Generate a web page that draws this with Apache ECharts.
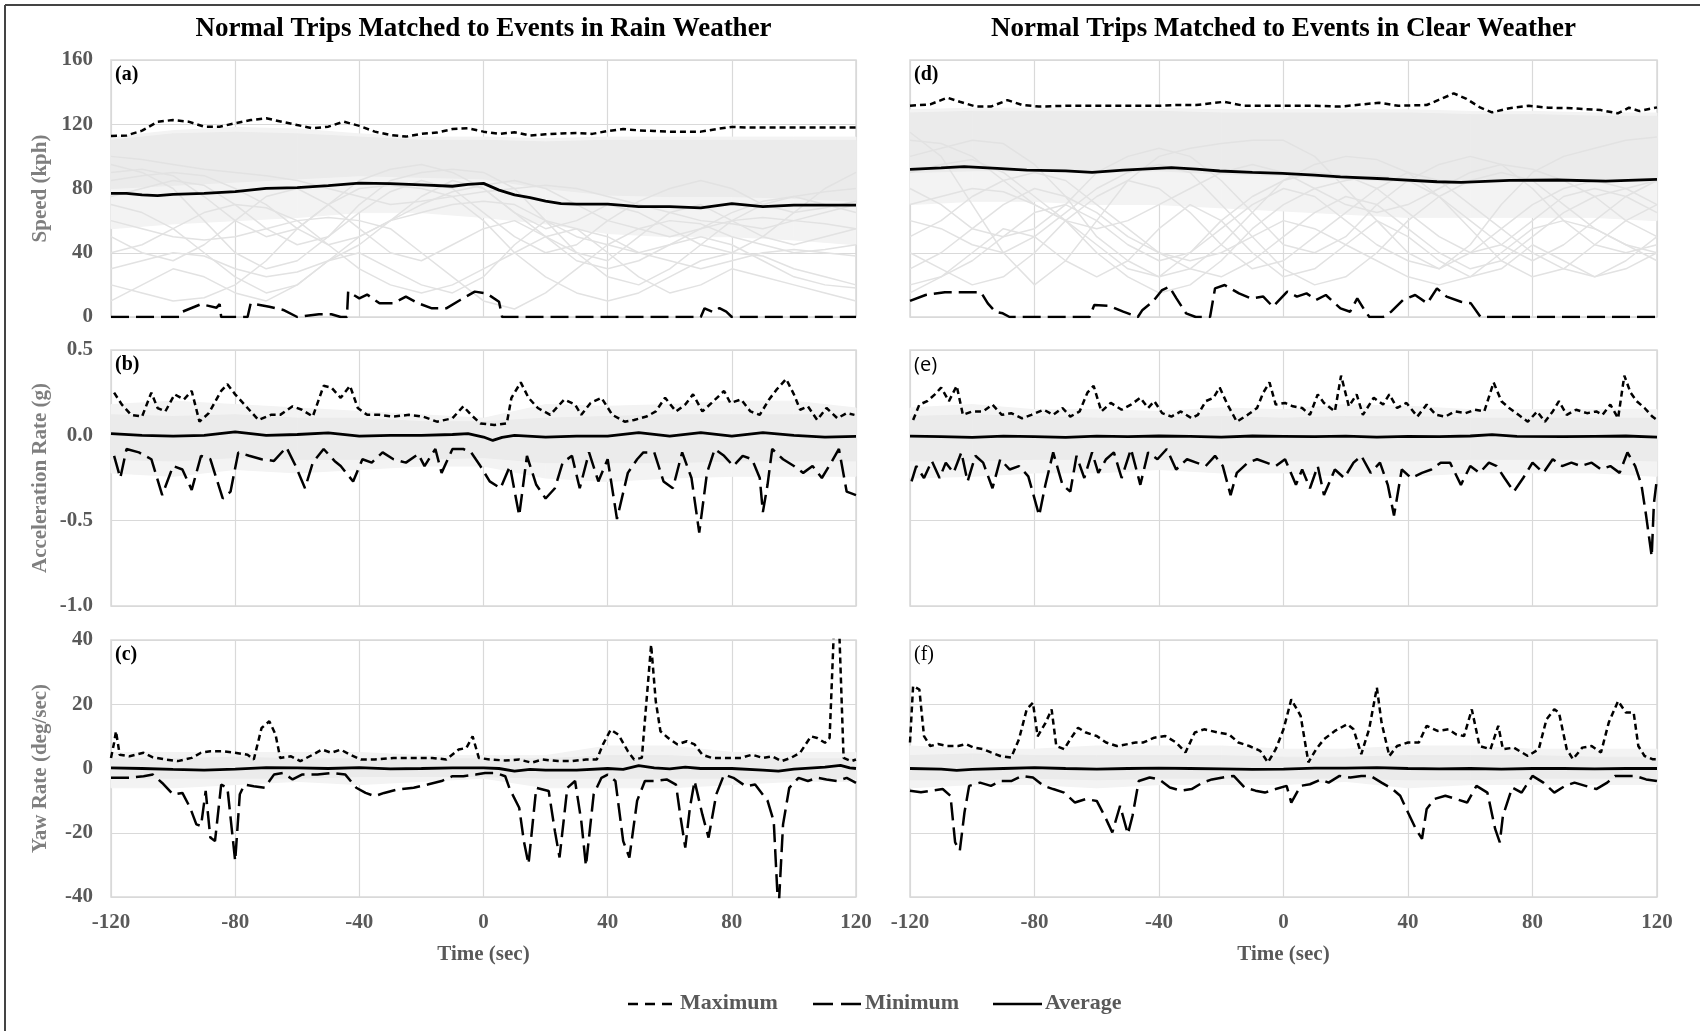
<!DOCTYPE html>
<html>
<head>
<meta charset="utf-8">
<title>Normal trips matched to events</title>
<script src="https://cdn.jsdelivr.net/npm/echarts@6/dist/echarts.min.js"></script>
<style>
  html, body { margin: 0; padding: 0; background: #fff; }
  #chart { width: 1700px; height: 1031px; }
</style>
</head>
<body>
<div id="chart"></div>
<script>
// ---- data (time in sec) ----
const bandTimes = [-120, -100, -80, -60, -40, -20, 0, 20, 40, 60, 80, 100, 120];
const traceTimes = [-120, -110, -100, -90, -80, -70, -60, -50, -40, -30, -20, -10, 0,
  10, 20, 30, 40, 50, 60, 70, 80, 90, 100, 110, 120];

// (a) speed, rain
const rainSpeedMax = [[-120,112.7],[-115,113],[-110,116],[-105,121.6],[-100,122.6],[-95,121.6],[-90,118.5],[-85,118.5],[-80,120.6],[-75,122.6],[-70,123.7],[-65,121.6],[-60,119.5],[-55,117.5],[-50,118.5],[-45,121.6],[-40,119],[-35,115.4],[-30,113.3],[-25,112.3],[-20,114],[-15,114.8],[-10,117],[-5,117.5],[0,115.4],[5,114],[10,115],[15,113],[20,113.7],[25,114.3],[30,114.5],[35,114],[40,115.8],[45,117],[50,116.2],[55,115.8],[60,115.4],[65,115.4],[70,115.4],[75,117],[80,118.3],[85,118],[90,117.9],[100,117.9],[110,117.9],[120,117.9]];
const rainSpeedMin = [[-120,0],[-98,0],[-97,3.3],[-91,8],[-86,5.8],[-85,8],[-84.5,0],[-76,0],[-75,8.5],[-69,6.4],[-64.5,4.4],[-60,0],[-53,1.7],[-49,1.7],[-46,0],[-44,0],[-43.6,15.8],[-40,11.6],[-37.5,14],[-33.5,8.5],[-29,8.5],[-25,12.7],[-21,8.5],[-16.6,5.4],[-12,5.4],[-7.5,10.6],[-2.8,15.8],[1,14.7],[5,9.5],[6,0],[70,0],[71.2,5.4],[74,3],[76,5.5],[78.2,3.3],[80,0],[120,0]];
const rainSpeedAvg = [[-120,77],[-115,77],[-110,76],[-105,75.6],[-100,76.4],[-90,77],[-80,78],[-70,80.1],[-60,80.5],[-50,81.8],[-40,83.4],[-30,83],[-20,82.2],[-10,81.4],[-5,82.6],[0,83.2],[5,79],[10,76],[15,74.3],[20,72.2],[25,70.6],[30,70.3],[40,70.3],[50,68.7],[60,68.7],[70,68],[80,70.6],[90,68.7],[100,69.7],[110,69.7],[120,69.7]];
const rainSpeedBandLow = [80, 82, 84, 86, 88, 87, 86, 80, 76, 75, 75, 74, 72];
const rainSpeedBandUp = [110, 114, 115, 114, 112, 110, 110, 109, 110, 110, 110, 110, 110];
const rainSpeedOuterLow = [55, 58, 60, 62, 65, 65, 62, 58, 52, 50, 50, 48, 45];
const rainSpeedOuterUp = [112, 116, 118, 117, 114, 112, 112, 111, 112, 112, 112, 112, 112];
const rainSpeedTraces = [
  [70,65,55,40,25,15,20,35,50,60,65,70,72,70,60,50,45,40,45,55,60,62,60,58,55],
  [95,90,80,60,40,30,35,50,70,85,90,92,90,80,60,40,25,20,30,45,60,70,75,78,80],
  [40,45,55,65,70,68,60,45,30,20,15,20,30,40,50,55,50,40,35,30,35,40,42,40,38],
  [20,15,10,12,20,35,55,70,80,82,80,75,60,40,25,15,10,15,25,35,40,38,30,25,20],
  [85,88,90,88,80,70,55,45,50,60,70,78,82,85,80,70,60,55,50,55,65,72,75,70,65],
  [60,55,50,48,50,55,60,62,60,55,40,25,10,5,15,30,45,55,60,58,50,45,40,42,45],
  [30,35,40,38,30,25,28,35,45,60,75,85,80,65,50,35,30,35,45,50,45,35,25,20,18],
  [100,98,95,92,90,88,85,80,75,70,72,75,78,80,82,80,75,70,65,60,58,55,60,65,70],
  [75,80,85,82,70,55,45,50,65,78,85,80,65,50,40,45,60,72,80,85,80,70,65,68,72],
  [10,20,30,25,15,10,20,35,40,30,20,15,25,45,60,55,40,25,15,20,30,25,20,15,10],
  [50,40,35,45,60,75,80,70,55,40,35,45,55,60,50,40,35,50,65,70,60,50,45,50,55],
  [90,92,88,75,60,50,55,70,85,92,95,90,80,65,55,60,70,65,55,45,40,50,65,80,90]
];

// (b) acceleration, rain
const rainAccMax = [[-119,0.25],[-116.5,0.18],[-113.5,0.12],[-110,0.11],[-107,0.25],[-105,0.16],[-102.5,0.14],[-99.5,0.24],[-96.5,0.21],[-94,0.26],[-91.5,0.08],[-88.5,0.13],[-84.5,0.26],[-82.5,0.3],[-80,0.24],[-76,0.16],[-72.5,0.09],[-68.5,0.12],[-65.5,0.12],[-61.5,0.17],[-58.5,0.15],[-55,0.11],[-51.5,0.29],[-49,0.28],[-46,0.22],[-43,0.29],[-40.5,0.16],[-37.5,0.12],[-33.5,0.12],[-29,0.11],[-24,0.12],[-19.5,0.11],[-15,0.08],[-10,0.1],[-6.5,0.17],[-4,0.12],[-1,0.07],[3.5,0.06],[7.5,0.07],[9,0.22],[12,0.31],[14.5,0.22],[17.5,0.16],[21.5,0.12],[26,0.21],[29.5,0.18],[31.5,0.12],[34.5,0.19],[38,0.22],[41.5,0.12],[45.5,0.08],[48.5,0.09],[52.5,0.11],[55.5,0.14],[58.5,0.22],[62,0.14],[65,0.18],[67.5,0.24],[70.5,0.14],[73.5,0.19],[77.5,0.26],[79.5,0.19],[83,0.21],[86,0.14],[89,0.12],[92,0.21],[94.5,0.27],[97.5,0.33],[100,0.24],[102,0.15],[104.5,0.17],[107.5,0.09],[110.5,0.16],[114,0.1],[117,0.13],[119.5,0.12]];
const rainAccMin = [[-119,-0.12],[-117,-0.25],[-115,-0.08],[-111,-0.1],[-107,-0.14],[-103.5,-0.35],[-100,-0.18],[-97,-0.2],[-94,-0.32],[-91,-0.12],[-88,-0.14],[-84,-0.37],[-81.5,-0.33],[-79,-0.1],[-75.5,-0.12],[-71.5,-0.14],[-67.5,-0.15],[-63.5,-0.07],[-60.5,-0.18],[-57.5,-0.31],[-55,-0.16],[-51.5,-0.08],[-48,-0.15],[-46,-0.18],[-42,-0.27],[-39,-0.14],[-36,-0.16],[-32.5,-0.1],[-29,-0.14],[-25,-0.16],[-21,-0.11],[-19,-0.18],[-15.5,-0.08],[-13.5,-0.22],[-10,-0.08],[-6.5,-0.08],[-4,-0.1],[-1,-0.18],[2,-0.27],[5.5,-0.31],[8.5,-0.18],[11.5,-0.47],[14,-0.12],[17,-0.29],[20,-0.37],[23,-0.31],[25.5,-0.16],[28.5,-0.12],[31,-0.31],[34,-0.1],[37,-0.27],[40,-0.14],[43,-0.49],[46.5,-0.22],[49.5,-0.14],[51.5,-0.1],[55,-0.1],[58,-0.27],[61,-0.31],[64,-0.1],[67,-0.25],[69.5,-0.57],[72,-0.22],[74.5,-0.08],[77.5,-0.12],[80.5,-0.18],[83.5,-0.12],[86.5,-0.14],[89,-0.25],[90,-0.45],[91.5,-0.29],[93,-0.08],[96.5,-0.14],[100,-0.18],[103,-0.22],[106,-0.18],[109,-0.25],[112,-0.16],[114.5,-0.08],[117,-0.33],[120,-0.35]];
const rainAccAvg = [[-120,0.01],[-110,0],[-100,-0.005],[-90,0],[-80,0.02],[-70,0],[-60,0.005],[-50,0.015],[-40,-0.005],[-30,0],[-20,0],[-10,0.005],[-5,0.01],[0,-0.01],[3,-0.03],[6,-0.012],[10,0],[20,-0.01],[30,-0.005],[40,-0.005],[50,0.016],[60,-0.005],[70,0.016],[80,-0.005],[90,0.016],[100,0],[110,-0.01],[120,-0.006]];
const rainAccBandLow = [-0.14, -0.15, -0.13, -0.14, -0.14, -0.14, -0.13, -0.16, -0.16, -0.16, -0.15, -0.15, -0.15];
const rainAccBandUp = [0.12, 0.11, 0.12, 0.1, 0.1, 0.08, 0.08, 0.1, 0.11, 0.12, 0.12, 0.12, 0.12];
const rainAccOuterLow = [-0.22, -0.24, -0.2, -0.22, -0.2, -0.18, -0.18, -0.25, -0.27, -0.25, -0.24, -0.24, -0.24];
const rainAccOuterUp = [0.18, 0.2, 0.18, 0.16, 0.14, 0.12, 0.1, 0.18, 0.17, 0.18, 0.2, 0.2, 0.16];

// (c) yaw rate, rain
const rainYawMax = [[-120,3.3],[-119,8],[-118.4,11.6],[-117.2,4.3],[-114,3.8],[-109.5,4.9],[-106.5,3.5],[-102.5,2.8],[-98.5,2.3],[-94,3.3],[-91,4.9],[-88,5.4],[-84,5.4],[-80,4.9],[-76,4.3],[-74,2.8],[-71.5,12.6],[-69,14.7],[-67,10.6],[-65.5,3.3],[-62,3.8],[-59,2.3],[-55,4.3],[-52,5.9],[-49,4.9],[-46,5.9],[-43,4.3],[-39.5,2.8],[-35,2.8],[-29,3.3],[-22.5,3.3],[-16.5,3.3],[-12,2.8],[-8,5.9],[-5.5,6.4],[-3.5,10],[-1.5,3.3],[2,2.8],[7,2.5],[11.5,2.8],[15.5,1.8],[19,2.8],[24,2.3],[28.5,2.3],[33,2.8],[36.5,2.8],[38.5,7.5],[41,12.1],[43.5,10.5],[46.5,5.4],[48.5,2.8],[51,3.3],[52.5,20.9],[54,38.5],[55.5,20.9],[57,11.6],[59.5,9.5],[62.5,7.5],[65.5,8.5],[68,7.5],[70.5,4.3],[73.5,3.3],[78,3.3],[83,3.3],[86.5,4.3],[90,3.3],[93,3.8],[96,2.3],[99,3.3],[102,4.9],[105.5,10],[107.5,9.5],[110,8],[111.5,9.5],[113,46],[114.5,46],[116,3.3],[118.5,2.3],[120,2.8]];
const rainYawMin = [[-120,-2.9],[-114,-2.9],[-109.5,-2.4],[-106.5,-1.9],[-103.5,-4.5],[-100,-8.1],[-97,-7.6],[-94.5,-12.2],[-92.5,-17.4],[-91,-17.9],[-89.5,-7],[-88,-21.5],[-86.5,-22.6],[-84.5,-5],[-82.5,-6],[-80,-28.8],[-78.5,-8],[-77,-5],[-74,-5.5],[-70.5,-6],[-67.5,-1.9],[-64.5,-1.4],[-61.5,-3.4],[-58.5,-1.9],[-53.5,-1.9],[-49,-1.4],[-44.5,-1.9],[-41,-6],[-38,-7.6],[-35,-8.6],[-32,-7.6],[-27.5,-6.5],[-22.5,-6],[-18,-5],[-13.5,-3.9],[-10,-2.4],[-6.5,-2.4],[-2.5,-1.9],[0.5,-1.4],[4,-1.4],[7,-2.4],[8.5,-6.5],[11.5,-12.2],[13,-22.6],[14.5,-29.8],[17,-6],[21,-7],[23,-19.5],[24.5,-27.7],[27,-6],[29.5,-3.9],[31.5,-16.4],[33,-30.3],[35.5,-8],[38,-2.9],[40,-1.9],[42.5,-3.9],[45,-22.6],[47,-27.7],[49.5,-10],[52,-3.9],[55,-3.9],[59,-3.4],[62,-5],[63.5,-15.3],[65,-24.6],[66.5,-12.2],[68,-3.9],[70.5,-14.3],[72.5,-21.5],[75,-8],[77.5,-1.9],[80.5,-2.9],[84.5,-5.5],[87.5,-5],[91.5,-10],[93.5,-16.4],[95,-45],[96.5,-17.4],[98.5,-6],[101.5,-2.9],[104.5,-3.9],[107.5,-2.9],[110.5,-3.4],[114,-3.9],[117,-2.9],[120,-4.5]];
const rainYawAvg = [[-120,0.2],[-110,0],[-100,-0.3],[-90,-0.5],[-80,-0.2],[-70,0.3],[-60,0.2],[-50,0],[-40,0.3],[-30,-0.1],[-20,0],[-10,0.2],[0,0.2],[5,0],[10,-0.8],[15,-0.3],[20,-0.5],[30,-0.5],[40,0],[45,-0.3],[50,0.9],[55,0.2],[60,-0.1],[65,0.4],[70,0],[80,0],[90,-0.5],[95,-0.8],[100,-0.2],[110,0.4],[115,1],[118,0.2],[120,0]];
const rainYawBandLow = [-3, -3, -3, -3, -2.5, -2.5, -2.5, -3, -3, -3, -3, -3, -3];
const rainYawBandUp = [3, 3, 3.5, 3, 3, 3, 3, 3, 4, 4, 3, 3, 3];
const rainYawOuterLow = [-6, -6, -5, -4, -5, -4, -3, -6, -6, -6, -5, -4, -4];
const rainYawOuterUp = [5, 5, 5, 5, 5, 4, 4, 4, 7, 7, 5, 5, 5];

// (d) speed, clear
const clearSpeedMax = [[-120,131.5],[-113.5,132.4],[-108,136.5],[-104,134],[-98.8,131],[-94,131],[-88.7,135],[-84,132],[-78.6,131],[-70,131.5],[-60,131.5],[-50,131.5],[-40,131.5],[-34.4,132],[-28,132],[-19,134],[-12.7,131.5],[0,131.5],[10,131.5],[18.3,131],[30.7,133.4],[36.9,131.5],[46,132],[50.9,136],[54.7,139.2],[58.6,136],[63.3,130.3],[67,127.4],[72.6,130],[78.8,131.5],[85,130.3],[92.7,130],[102,128.8],[107.4,126.8],[111,130.3],[114.4,128.2],[120,130.5]];
const clearSpeedMin = [[-120,10],[-115,13.7],[-108.8,15.4],[-101,15.4],[-97.2,15.4],[-95,8.5],[-92.6,3.3],[-90.2,2.3],[-88,0],[-62.3,0],[-60.8,7.5],[-56,7],[-51.5,3.3],[-46.8,0],[-45.3,4.4],[-42,9.5],[-39,16.8],[-36.7,18.9],[-34.4,11.6],[-31.3,2.3],[-28.2,0],[-23.6,0],[-22,17.8],[-18.9,19.9],[-14.3,14.7],[-10.4,11.6],[-6.5,12.7],[-3.4,6.4],[1.2,15.8],[4.3,12.7],[7.4,14.7],[10.5,10.6],[13.6,13.7],[18.3,5.4],[21.4,3.3],[23.7,11.6],[26,4.4],[27.6,0],[32,0],[34.6,3.3],[38.4,10.6],[42.3,13.7],[46.2,8.5],[49.3,17.8],[52.4,12.7],[57,9.5],[60.2,8.5],[63.3,0],[120,0]];
const clearSpeedAvg = [[-120,91.9],[-110,92.8],[-102.6,93.6],[-92,92.5],[-82.5,91.5],[-70,91],[-61.5,90],[-51.5,91.5],[-36,93],[-28,92],[-20.5,90.9],[-10,90],[-0.3,89.4],[10,88.3],[18.3,87.3],[33.8,85.9],[49.3,84.2],[57,83.8],[72.6,85],[88,85.3],[103.6,84.6],[120,85.7]];
const clearSpeedBandLow = [90, 91, 91, 90, 91, 89, 88, 86, 84, 84, 85, 85, 84];
const clearSpeedBandUp = [127, 128, 128, 128, 128, 127, 127, 127, 127, 126, 126, 125, 125];
const clearSpeedOuterLow = [70, 72, 72, 70, 70, 68, 66, 64, 62, 62, 62, 62, 60];
const clearSpeedOuterUp = [129, 130, 130, 130, 130, 129, 129, 129, 129, 128, 128, 127, 127];
const clearSpeedTraces = [
  [115,100,70,40,20,35,60,85,100,105,108,110,110,100,80,60,40,30,45,70,90,100,105,110,112],
  [60,55,45,40,50,65,80,90,95,90,70,50,30,20,25,40,60,75,85,90,85,70,55,45,40],
  [100,105,110,108,95,75,50,35,25,30,45,65,85,95,100,98,90,75,55,35,25,30,45,60,70],
  [40,30,20,25,40,60,75,85,80,65,45,30,35,50,65,80,90,85,70,55,40,30,25,35,50],
  [80,70,55,50,55,70,90,100,105,100,85,65,45,40,50,70,85,95,100,95,80,60,45,40,45],
  [20,25,35,50,65,70,60,45,35,40,55,70,80,75,60,45,35,30,40,55,70,80,85,80,70],
  [110,108,100,85,70,60,55,60,70,80,90,95,90,80,70,65,70,80,90,95,92,85,75,60,50],
  [50,60,75,85,90,85,70,55,40,30,25,35,50,65,75,70,55,40,30,35,50,65,75,80,85],
  [90,95,98,90,75,60,40,25,15,20,35,55,70,80,85,88,85,75,60,45,35,45,60,75,85],
  [30,40,55,70,80,75,65,50,40,35,40,50,60,55,45,35,25,20,25,40,55,60,55,45,35],
  [70,75,80,78,70,60,45,30,25,40,60,75,85,90,88,80,65,50,40,45,60,75,80,75,65],
  [15,25,40,55,50,35,25,35,55,70,60,40,25,30,45,60,50,35,25,30,45,35,25,30,40]
];

// (e) acceleration, clear
const clearAccMax = [[-119,0.09],[-117,0.18],[-114.5,0.2],[-112,0.24],[-110,0.28],[-107.5,0.2],[-105,0.29],[-103,0.12],[-100,0.14],[-96.5,0.14],[-93.5,0.18],[-90.5,0.12],[-87.5,0.13],[-84,0.1],[-81,0.12],[-77,0.15],[-74,0.12],[-71,0.16],[-68.5,0.11],[-65.5,0.14],[-63,0.25],[-61,0.29],[-58.5,0.14],[-55.5,0.19],[-52,0.15],[-49,0.18],[-46,0.22],[-43.5,0.16],[-41.5,0.2],[-39,0.13],[-36,0.11],[-33,0.14],[-29.5,0.1],[-27.5,0.12],[-25,0.2],[-22.5,0.22],[-20.5,0.28],[-18,0.18],[-15,0.08],[-11.5,0.12],[-8.5,0.16],[-6.5,0.25],[-4.5,0.31],[-2.5,0.18],[0.5,0.19],[3,0.17],[6,0.16],[8.5,0.12],[11,0.24],[13,0.19],[16.5,0.14],[18.5,0.35],[21,0.17],[23.5,0.24],[25.5,0.12],[29,0.22],[32,0.18],[34,0.24],[36.5,0.16],[39.5,0.19],[43,0.11],[46,0.18],[49,0.12],[52,0.11],[55,0.14],[58.5,0.13],[61.5,0.15],[64.5,0.14],[67.5,0.31],[70,0.2],[72.5,0.16],[75.5,0.12],[78.5,0.08],[81.5,0.14],[84,0.08],[86.5,0.14],[88.5,0.2],[91,0.12],[94,0.15],[97.5,0.13],[100.5,0.14],[102.5,0.12],[105,0.18],[107.5,0.1],[109.5,0.35],[111.5,0.25],[113.5,0.2],[116,0.16],[118.5,0.11],[120,0.09]];
const clearAccMin = [[-119.5,-0.27],[-118,-0.18],[-115.5,-0.25],[-113,-0.15],[-110.5,-0.25],[-108.5,-0.16],[-106,-0.22],[-103.5,-0.1],[-101.5,-0.27],[-99,-0.12],[-96.5,-0.16],[-93.5,-0.31],[-91,-0.14],[-88,-0.2],[-85,-0.18],[-82,-0.24],[-78.5,-0.47],[-76.5,-0.29],[-74,-0.1],[-71,-0.29],[-68.5,-0.33],[-66.5,-0.12],[-64,-0.25],[-61.5,-0.1],[-59.5,-0.22],[-57,-0.14],[-54.5,-0.1],[-52,-0.25],[-49,-0.08],[-46,-0.29],[-43.5,-0.1],[-40.5,-0.14],[-37.5,-0.08],[-34.5,-0.2],[-31,-0.14],[-28,-0.16],[-25,-0.18],[-22,-0.12],[-19.5,-0.18],[-17,-0.35],[-15,-0.22],[-11.5,-0.16],[-8.5,-0.14],[-5.5,-0.16],[-2.5,-0.18],[0.5,-0.14],[4,-0.29],[6,-0.2],[8.5,-0.31],[11,-0.18],[13,-0.35],[16.5,-0.2],[19.5,-0.25],[22.5,-0.16],[25,-0.12],[28,-0.22],[31,-0.16],[33.5,-0.29],[35.5,-0.47],[38,-0.2],[41,-0.25],[44.5,-0.22],[47.5,-0.2],[50.5,-0.16],[53.5,-0.16],[57,-0.29],[60,-0.18],[63,-0.22],[66,-0.16],[68.5,-0.18],[71,-0.25],[74,-0.33],[77,-0.25],[80,-0.16],[83.5,-0.22],[86.5,-0.14],[89.5,-0.18],[92.5,-0.16],[95.5,-0.18],[99,-0.16],[102,-0.2],[105,-0.18],[108,-0.22],[110.5,-0.1],[113,-0.18],[115,-0.29],[116.5,-0.47],[118.3,-0.71],[119,-0.4],[120,-0.25]];
const clearAccAvg = [[-120,-0.005],[-110,-0.008],[-100,-0.012],[-90,-0.005],[-80,-0.008],[-70,-0.012],[-60,-0.005],[-50,-0.008],[-40,-0.004],[-30,-0.006],[-20,-0.01],[-10,-0.004],[0,-0.006],[10,-0.008],[20,-0.005],[30,-0.01],[40,-0.006],[50,-0.008],[60,-0.004],[67,0.004],[75,-0.006],[90,-0.008],[100,-0.006],[110,-0.004],[120,-0.01]];
const clearAccBandLow = [-0.15, -0.15, -0.14, -0.14, -0.14, -0.15, -0.15, -0.15, -0.15, -0.14, -0.14, -0.14, -0.15];
const clearAccBandUp = [0.11, 0.12, 0.11, 0.1, 0.1, 0.11, 0.1, 0.11, 0.11, 0.1, 0.1, 0.1, 0.1];
const clearAccOuterLow = [-0.25, -0.24, -0.22, -0.22, -0.2, -0.22, -0.22, -0.24, -0.24, -0.22, -0.22, -0.22, -0.24];
const clearAccOuterUp = [0.16, 0.18, 0.15, 0.15, 0.14, 0.16, 0.15, 0.18, 0.17, 0.15, 0.15, 0.15, 0.15];

// (f) yaw rate, clear
const clearYawMax = [[-120,8.1],[-119,25.7],[-117,24.6],[-115.5,10.1],[-113.5,7],[-111,7.6],[-108,7],[-104.5,7],[-102,7.6],[-99.5,6.5],[-96.5,6],[-94,5],[-91,3.9],[-87.5,3.4],[-85,9.1],[-82.5,18.4],[-80.5,20.5],[-79,10],[-76.5,14.1],[-74.5,18.4],[-73,7],[-70.5,6],[-68.5,9.1],[-66,12.7],[-63.5,11.2],[-60,10.1],[-57,8.1],[-53.5,7],[-50,7.6],[-47.5,8.1],[-45,8.1],[-41.5,9.6],[-38,10.1],[-34.5,8.1],[-31.5,5],[-28.5,11.2],[-25.5,12.2],[-21,11.2],[-17.5,10.6],[-14.5,8.1],[-11,7],[-7.5,5.5],[-5,1.9],[-2.5,6],[0,12.2],[2.5,21.5],[5.5,16.4],[8,1.9],[10.5,6],[13,9.1],[16.5,11.7],[20.5,13.8],[22.5,12.2],[25,4.5],[27.5,12.2],[30,25.2],[31.5,14.3],[34,3.9],[36.5,7],[40,8.1],[43.5,8.1],[46,13.3],[49.5,11.7],[53,12.2],[55.5,10.6],[58,10.1],[60.5,18.4],[63,7],[66.5,6],[69,13.3],[70.5,6],[74,6.5],[78.5,3.9],[82,6],[84.5,15.3],[87,18.4],[88.5,17.4],[91,6],[93,2.9],[96,6.5],[99,7],[102,5],[104.5,14.3],[107.5,21],[110,17.4],[112.5,17.4],[114,7],[116,3.9],[118.5,2.9],[120,2.9]];
const clearYawMin = [[-120,-6.9],[-116.5,-7.4],[-113,-6.9],[-109.5,-6.4],[-107,-8.5],[-105.5,-23],[-104,-25.6],[-102.5,-13.7],[-101,-5.4],[-97.5,-4.4],[-94,-5.4],[-91,-3.9],[-87.5,-3.9],[-84,-2.3],[-80.5,-2.8],[-77,-5.4],[-74,-6.4],[-70.5,-7.5],[-67,-10.6],[-63.5,-9.5],[-60,-10.1],[-57.5,-14.7],[-55,-19.9],[-52.5,-11.6],[-50,-20.4],[-48.5,-14.7],[-46.5,-3.9],[-43,-2.8],[-40,-3.4],[-36.5,-5.9],[-33,-6.9],[-29.5,-6.4],[-26,-4.4],[-23,-3.4],[-19.5,-2.8],[-16,-2.3],[-12.5,-5.9],[-9,-6.9],[-6,-7.5],[-2.5,-6.4],[1,-5.4],[2.5,-10.6],[5.5,-5.4],[8.5,-4.9],[12,-3.4],[14.5,-4.4],[18,-2.3],[21.5,-2.8],[25,-2.3],[28,-2.3],[31.5,-4.4],[35,-6.4],[37.5,-8.5],[40,-13.7],[42.5,-18.8],[44.5,-21.9],[46,-12.6],[48.5,-9.5],[52,-8.5],[55.5,-9.5],[59,-10.6],[62,-5.4],[65.5,-7.5],[68,-18.8],[69.5,-23],[70.5,-14.7],[73.5,-5.9],[76.5,-7.5],[80,-2.3],[83.5,-4.4],[87,-7.5],[90.5,-5.4],[93.5,-4.4],[97,-5.4],[100.5,-6.4],[104,-4.4],[106.5,-2.3],[110,-2.3],[113,-2.3],[116.5,-3.4],[120,-3.9]];
const clearYawAvg = [[-120,0],[-110,-0.2],[-105,-0.6],[-100,-0.3],[-90,0],[-80,0.3],[-70,0],[-60,-0.2],[-50,0],[-40,0.1],[-30,0],[-20,-0.1],[-10,-0.3],[0,-0.2],[10,0.1],[20,0.1],[30,0.3],[40,0],[50,-0.1],[60,0],[70,-0.2],[80,0],[90,0],[100,-0.1],[110,0],[120,0]];
const clearYawBandLow = [-3.5, -3.5, -3, -3.5, -3, -3, -3, -3, -3.5, -3.5, -3, -3, -3];
const clearYawBandUp = [4, 4.5, 4, 4, 4, 4, 3.5, 3.5, 4, 4, 4, 3.5, 3.5];
const clearYawOuterLow = [-6, -5, -5, -6, -5, -5, -5, -4, -6, -5, -5, -5, -5];
const clearYawOuterUp = [7, 6, 6, 7, 7, 7, 6, 6, 7, 7, 6, 6, 6];

const legendNames = ['Maximum', 'Minimum', 'Average'];
const panelTitles = ['Normal Trips Matched to Events in Rain Weather', 'Normal Trips Matched to Events in Clear Weather'];

// ---- layout ----
const SERIF = '"Liberation Serif", "Times New Roman", serif';
const colLeft = [111, 910];
const colWidth = [745, 747];
const rowTop = [60, 350, 640];
const rowHeight = [257, 256, 257];
const dashes = { Maximum: [6, 4], Minimum: [18, 7], Average: null };

const panels = [
  { col: 0, row: 0, tag: '(a)', max: rainSpeedMax, min: rainSpeedMin, avg: rainSpeedAvg, low: rainSpeedBandLow, up: rainSpeedBandUp, oLow: rainSpeedOuterLow, oUp: rainSpeedOuterUp, traces: rainSpeedTraces, y: [0, 160, 40], name: 'Speed (kph)', dec: 0 },
  { col: 0, row: 1, tag: '(b)', max: rainAccMax, min: rainAccMin, avg: rainAccAvg, low: rainAccBandLow, up: rainAccBandUp, oLow: rainAccOuterLow, oUp: rainAccOuterUp, traces: [], y: [-1, 0.5, 0.5], name: 'Acceleration Rate (g)', dec: 1 },
  { col: 0, row: 2, tag: '(c)', max: rainYawMax, min: rainYawMin, avg: rainYawAvg, low: rainYawBandLow, up: rainYawBandUp, oLow: rainYawOuterLow, oUp: rainYawOuterUp, traces: [], y: [-40, 40, 20], name: 'Yaw Rate (deg/sec)', dec: 0 },
  { col: 1, row: 0, tag: '(d)', max: clearSpeedMax, min: clearSpeedMin, avg: clearSpeedAvg, low: clearSpeedBandLow, up: clearSpeedBandUp, oLow: clearSpeedOuterLow, oUp: clearSpeedOuterUp, traces: clearSpeedTraces, y: [0, 160, 40], dec: 0 },
  { col: 1, row: 1, tag: '(e)', max: clearAccMax, min: clearAccMin, avg: clearAccAvg, low: clearAccBandLow, up: clearAccBandUp, oLow: clearAccOuterLow, oUp: clearAccOuterUp, traces: [], y: [-1, 0.5, 0.5], dec: 1 },
  { col: 1, row: 2, tag: '(f)', max: clearYawMax, min: clearYawMin, avg: clearYawAvg, low: clearYawBandLow, up: clearYawBandUp, oLow: clearYawOuterLow, oUp: clearYawOuterUp, traces: [], y: [-40, 40, 20], dec: 0 }
];

// band pieces: one quad between consecutive band times
function bandPieces(low, up) {
  const out = [];
  for (let k = 0; k < bandTimes.length - 1; k++) {
    out.push([bandTimes[k], low[k], up[k], bandTimes[k + 1], low[k + 1], up[k + 1]]);
  }
  return out;
}

function bandRenderer(color) {
  return function (params, api) {
    const p1 = api.coord([api.value(0), api.value(1)]);
    const p2 = api.coord([api.value(0), api.value(2)]);
    const p3 = api.coord([api.value(3), api.value(5)]);
    const p4 = api.coord([api.value(3), api.value(4)]);
    return {
      type: 'polygon',
      shape: { points: [p1, p2, p3, p4] },
      style: { fill: color, stroke: color, lineWidth: 1 }
    };
  };
}

const grid = [], xAxis = [], yAxis = [], series = [];
const graphic = [
  { type: 'line', shape: { x1: 5, y1: 5, x2: 1700, y2: 5 }, style: { stroke: '#444', lineWidth: 2 } },
  { type: 'line', shape: { x1: 5, y1: 5, x2: 5, y2: 1031 }, style: { stroke: '#444', lineWidth: 2 } }
];

panelTitles.forEach(function (t, c) {
  graphic.push({
    type: 'text', x: colLeft[c] + colWidth[c] / 2, y: 29,
    style: { text: t, font: 'bold 27px ' + SERIF, fill: '#000', textAlign: 'center', textVerticalAlign: 'middle' }
  });
});

panels.forEach(function (p, i) {
  const bottomRow = p.row === 2;
  grid.push({
    left: colLeft[p.col], top: rowTop[p.row], width: colWidth[p.col], height: rowHeight[p.row],
    show: true, borderColor: '#d9d9d9', borderWidth: 1.5, containLabel: false, outerBoundsMode: 'none'
  });
  xAxis.push({
    gridIndex: i, type: 'value', min: -120, max: 120, interval: 40,
    axisLine: { show: false }, axisTick: { show: false },
    splitLine: { show: true, lineStyle: { color: '#d9d9d9', width: 1.2 } },
    axisLabel: { show: bottomRow, fontFamily: SERIF, fontSize: 21, fontWeight: 'bold', color: '#595959', margin: 15 },
    name: bottomRow ? 'Time (sec)' : '', nameLocation: 'middle', nameGap: 47,
    nameTextStyle: { fontFamily: SERIF, fontSize: 21, fontWeight: 'bold', color: '#595959' }
  });
  yAxis.push({
    gridIndex: i, type: 'value', min: p.y[0], max: p.y[1], interval: p.y[2],
    axisLine: { show: false }, axisTick: { show: false },
    splitLine: { show: true, lineStyle: { color: '#d9d9d9', width: 1.2 } },
    axisLabel: {
      show: p.col === 0, fontFamily: SERIF, fontSize: 21, fontWeight: 'bold', color: '#595959', margin: 18,
      formatter: (function (d) { return function (v) { return v.toFixed(d); }; })(p.dec)
    },
    name: p.name || '', nameLocation: 'middle', nameGap: 60,
    nameTextStyle: { fontFamily: SERIF, fontSize: 21, fontWeight: 'bold', color: '#7f7f7f' }
  });

  // spread of the individual trips: loose outer band, dense core band
  series.push({
    type: 'custom', xAxisIndex: i, yAxisIndex: i, silent: true, z: 1,
    data: bandPieces(p.oLow, p.oUp), renderItem: bandRenderer('#f3f3f3'),
    encode: { x: [0, 3], y: [1, 2, 4, 5] }
  });
  series.push({
    type: 'custom', xAxisIndex: i, yAxisIndex: i, silent: true, z: 1,
    data: bandPieces(p.low, p.up), renderItem: bandRenderer('#ebebeb'),
    encode: { x: [0, 3], y: [1, 2, 4, 5] }
  });
  // individual trips (light grey)
  p.traces.forEach(function (tr) {
    series.push({
      type: 'line', xAxisIndex: i, yAxisIndex: i, silent: true, symbol: 'none', z: 2,
      data: traceTimes.map(function (t, k) { return [t, tr[k]]; }),
      lineStyle: { color: '#e2e2e2', width: 1.5 }
    });
  });

  [['Maximum', p.max], ['Minimum', p.min], ['Average', p.avg]].forEach(function (s) {
    series.push({
      name: s[0], type: 'line', xAxisIndex: i, yAxisIndex: i, symbol: 'none', z: 5,
      data: s[1],
      lineStyle: { color: '#000', width: s[0] === 'Average' ? 2.8 : 2.5, type: dashes[s[0]] || 'solid' }
    });
  });

  const tagFont = p.tag === '(e)' ? 'normal 20px "Open Sans", sans-serif'
    : (p.tag === '(f)' ? 'normal 20px ' + SERIF : 'bold 20px ' + SERIF);
  graphic.push({
    type: 'text', x: colLeft[p.col] + 4, y: rowTop[p.row] + 5, z: 10,
    style: { text: p.tag, font: tagFont, fill: '#000' }
  });
});

// legend, drawn by hand so the dash patterns match
const legendX = [628, 813, 993];
const legendDash = [[10, 7], [20, 8], null];
legendNames.forEach(function (n, k) {
  graphic.push({
    type: 'line', shape: { x1: legendX[k], y1: 1004, x2: legendX[k] + 49, y2: 1004 },
    style: { stroke: '#000', lineWidth: 2.5, lineDash: legendDash[k] }
  });
  graphic.push({
    type: 'text', x: legendX[k] + 52, y: 1003,
    style: { text: n, font: 'bold 22px ' + SERIF, fill: '#595959', textVerticalAlign: 'middle' }
  });
});

const chart = echarts.init(document.getElementById('chart'));
chart.setOption({
  animation: false,
  backgroundColor: '#fff',
  grid: grid,
  xAxis: xAxis,
  yAxis: yAxis,
  graphic: graphic,
  series: series
});
</script>
</body>
</html>
